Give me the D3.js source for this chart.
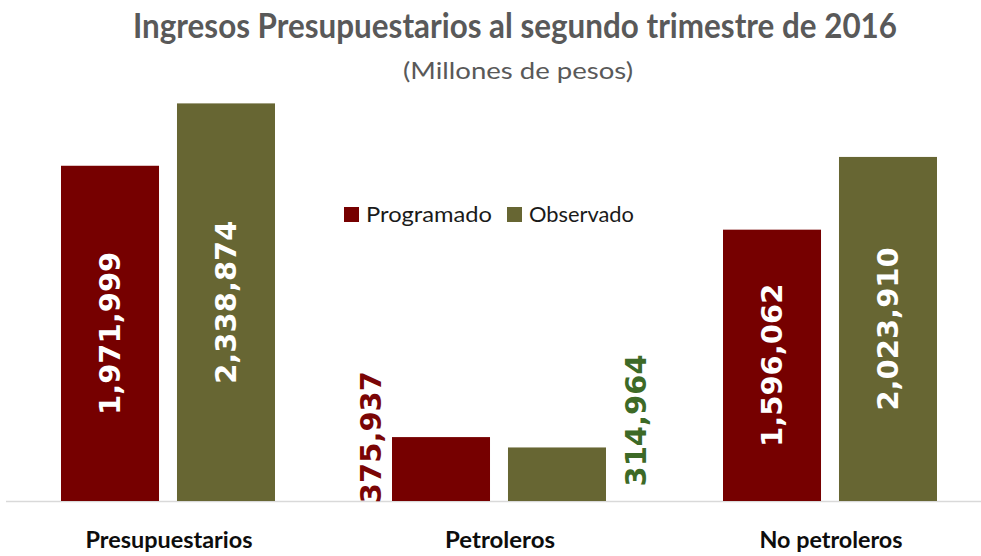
<!DOCTYPE html>
<html lang="es">
<head>
  <meta charset="UTF-8" />
  <title>Ingresos Presupuestarios al segundo trimestre de 2016</title>
  <script src="https://d3js.org/d3.v7.min.js"></script>
  <style>
    body { margin: 0; background: #fff; }
    svg { display: block; }
  </style>
</head>
<body>
  <svg id="chart" width="981" height="556"></svg>
  <script>
    // Datos (millones de pesos)
    const categories = ["Presupuestarios", "Petroleros", "No petroleros"];
    const series = ["Programado", "Observado"];
    const programado = [1971999, 375937, 1596062];
    const observado = [2338874, 314964, 2023910];
    const seriesColors = ["#760000", "#676633"];
    // color de etiqueta cuando va fuera de la barra
    const outsideLabelColors = ["#7a0505", "#3d6a27"];

    const width = 981, height = 556;
    const baseY = 501;
    const svg = d3.select("#chart");

    const x0 = d3.scaleBand().domain(categories).range([2.5, 995.5]);
    const x1 = d3.scaleBand().domain(series).range([58.5, 272.5]).paddingInner(0.155);
    const y = d3.scaleLinear().domain([0, 2600000]).range([baseY, 59]);

    const fmt = d3.format(",");

    const rows = categories.map((c, i) => ({
      cat: c,
      values: [
        { s: series[0], v: programado[i], k: 0 },
        { s: series[1], v: observado[i], k: 1 }
      ]
    }));

    // Título
    svg.append("text")
      .attr("x", 515).attr("y", 38)
      .attr("text-anchor", "middle")
      .attr("font-family", "Lato, 'Open Sans', sans-serif")
      .attr("font-weight", "bold")
      .attr("font-size", 34)
      .attr("fill", "#595959")
      .attr("textLength", 764)
      .attr("lengthAdjust", "spacingAndGlyphs")
      .text("Ingresos Presupuestarios al segundo trimestre de 2016");

    svg.append("text")
      .attr("x", 518).attr("y", 79)
      .attr("text-anchor", "middle")
      .attr("font-family", "Lato, 'Open Sans', sans-serif")
      .attr("font-size", 23)
      .attr("fill", "#595959")
      .attr("textLength", 230)
      .attr("lengthAdjust", "spacingAndGlyphs")
      .text("(Millones de pesos)");

    // Eje
    svg.append("line")
      .attr("x1", 6).attr("x2", 981)
      .attr("y1", baseY + 0.5).attr("y2", baseY + 0.5)
      .attr("stroke", "#d9d9d9").attr("stroke-width", 1.5);

    const groups = svg.append("g").selectAll("g")
      .data(rows).enter().append("g")
      .attr("transform", d => `translate(${x0(d.cat)},0)`);

    groups.selectAll("rect")
      .data(d => d.values).enter().append("rect")
      .attr("x", d => x1(d.s))
      .attr("y", d => y(d.v))
      .attr("width", x1.bandwidth())
      .attr("height", d => baseY - y(d.v))
      .attr("fill", d => seriesColors[d.k]);

    // Etiquetas de valor (verticales)
    groups.selectAll("text.val")
      .data(d => d.values).enter().append("text")
      .attr("class", "val")
      .attr("transform", d => {
        const h = baseY - y(d.v);
        let cx, cy;
        if (h > 180) {
          cx = x1(d.s) + x1.bandwidth() / 2;
          cy = (y(d.v) + baseY) / 2;
        } else if (d.k === 0) {
          cx = x1(d.s) - 21;
          cy = y(d.v);
        } else {
          cx = x1(d.s) + x1.bandwidth() + 29.5;
          cy = y(d.v) - 27;
        }
        return `translate(${cx},${cy}) rotate(-90)`;
      })
      .attr("text-anchor", "middle")
      .attr("dominant-baseline", "central")
      .attr("font-family", "'DejaVu Sans', sans-serif")
      .attr("font-weight", "bold")
      .attr("font-size", 29)
      .attr("fill", d => (baseY - y(d.v) > 180) ? "#ffffff" : outsideLabelColors[d.k])
      .text(d => fmt(d.v));

    // Etiquetas de categoría
    const catWidths = [167, 110, 143];
    svg.append("g").selectAll("text")
      .data(categories).enter().append("text")
      .attr("x", d => x0(d) + x0.bandwidth() / 2 + 1)
      .attr("y", 548)
      .attr("text-anchor", "middle")
      .attr("font-family", "Lato, 'Open Sans', sans-serif")
      .attr("font-weight", "bold")
      .attr("font-size", 22)
      .attr("fill", "#0d0d0d")
      .attr("textLength", (d, i) => catWidths[i])
      .attr("lengthAdjust", "spacingAndGlyphs")
      .text(d => d);

    // Leyenda
    const legendX = [344, 507];
    const legendW = [126, 105];
    const legend = svg.append("g").selectAll("g")
      .data(series).enter().append("g")
      .attr("transform", (d, i) => `translate(${legendX[i]},207)`);
    legend.append("rect")
      .attr("width", 15).attr("height", 15)
      .attr("fill", (d, i) => seriesColors[i]);
    legend.append("text")
      .attr("x", 22).attr("y", 15)
      .attr("font-family", "Lato, 'Open Sans', sans-serif")
      .attr("font-size", 22)
      .attr("fill", "#1a1a1a")
      .attr("textLength", (d, i) => legendW[i])
      .attr("lengthAdjust", "spacingAndGlyphs")
      .text(d => d);
  </script>
</body>
</html>
